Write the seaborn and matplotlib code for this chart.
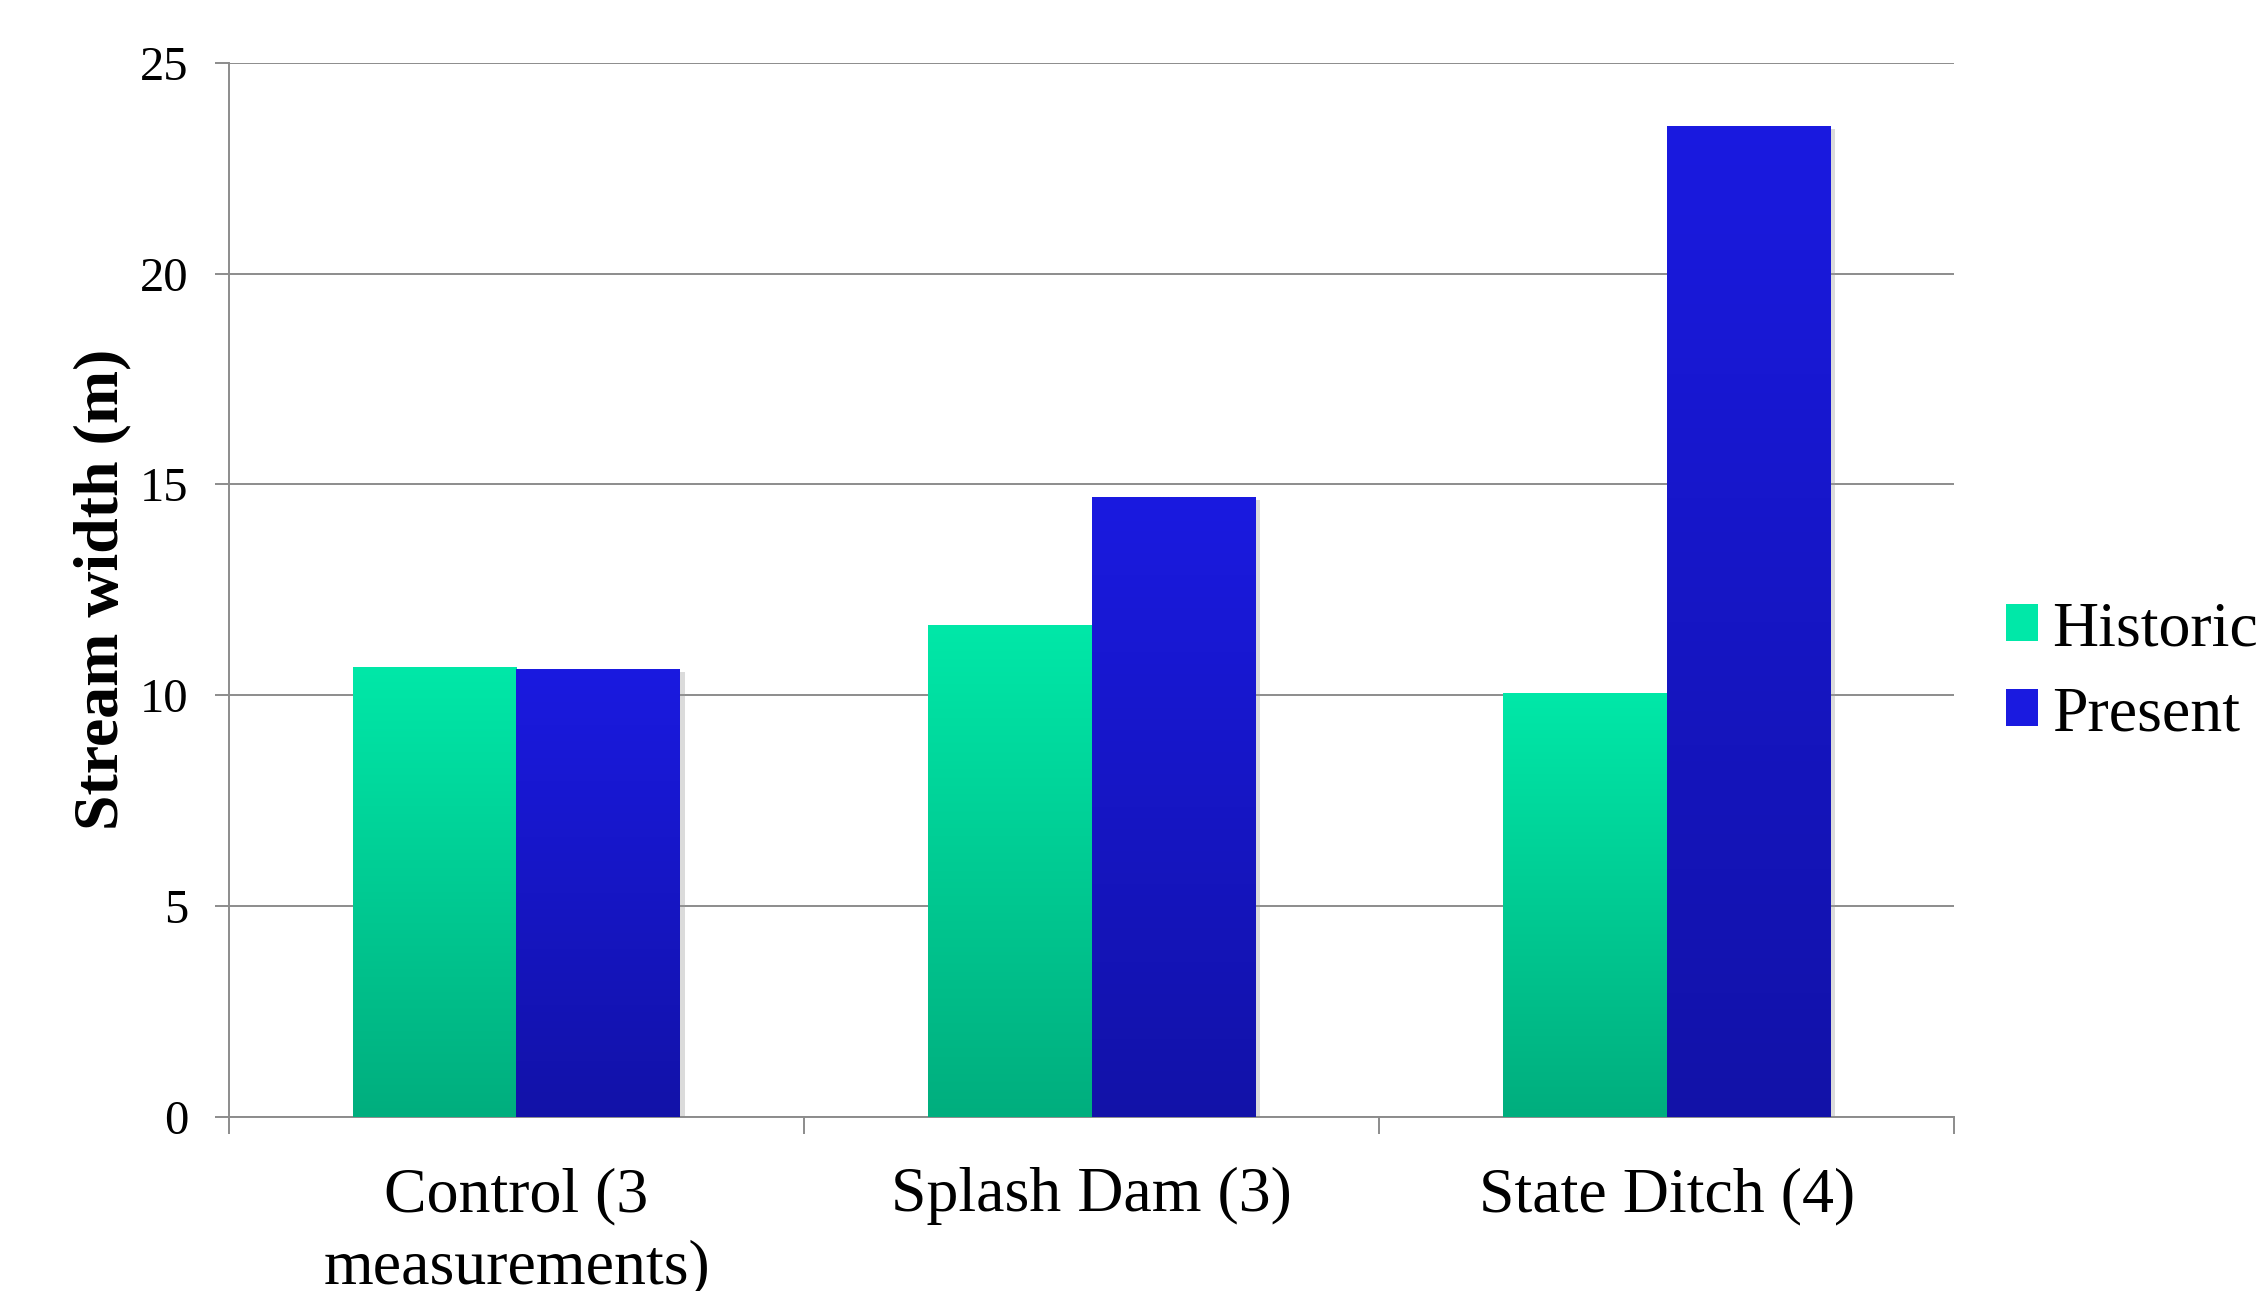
import numpy as np
import pandas as pd
import matplotlib
matplotlib.use('Agg')
import matplotlib.pyplot as plt
import matplotlib.patheffects as pe
from matplotlib.patches import Patch
from matplotlib.colors import LinearSegmentedColormap
import seaborn as sns

# ── data ─────────────────────────────────────────────
sites = ["Control (3\nmeasurements)", "Splash Dam (3)", "State Ditch (4)"]
historic = [10.68, 11.67, 10.05]
present = [10.62, 14.70, 23.50]
series = ["Historic", "Present"]

# colours: top -> bottom of each bar gradient
grad = {
    "Historic": ("#00e8a8", "#00ae7e"),
    "Present": ("#1a1ae0", "#1212a8"),
}

df = pd.DataFrame({
    "site": sites * 2,
    "width": historic + present,
    "series": ["Historic"] * 3 + ["Present"] * 3,
})

sns.set_style("white")
plt.rcParams['font.family'] = ['Liberation Serif', 'DejaVu Serif']
plt.rcParams['text.color'] = 'black'
plt.rcParams['axes.labelcolor'] = 'black'
plt.rcParams['xtick.labelcolor'] = 'black'
plt.rcParams['ytick.labelcolor'] = 'black'

fig = plt.figure(figsize=(22.67, 12.91), dpi=100)
ax = fig.add_axes([0.101, 0.1348, 0.761, 0.8166])

mid = {k: v[0] for k, v in grad.items()}
sns.barplot(data=df, x="site", y="width", hue="series", hue_order=series,
            palette=mid, saturation=1, width=0.57, ax=ax, legend=False)

# replace flat fill by a vertical gradient per bar
ramp = np.linspace(0, 1, 256).reshape(-1, 1)
for bars, name in zip(ax.containers, series):
    cmap = LinearSegmentedColormap.from_list(name, [grad[name][1], grad[name][0]])
    for p in bars:
        x0, y0 = p.get_x(), p.get_y()
        w, h = p.get_width(), p.get_height()
        p.set_facecolor("none")
        p.set_edgecolor("none")
        p.set_path_effects([pe.SimplePatchShadow(offset=(3, -2), shadow_rgbFace="#999999", alpha=0.35)])
        im = ax.imshow(ramp, cmap=cmap, origin="lower", aspect="auto",
                       extent=(x0, x0 + w, y0, y0 + h), zorder=3)
        im.set_clip_path(p)

ax.set_xlim(-0.5, 2.5)
ax.set_ylim(0, 25)
ax.set_yticks([0, 5, 10, 15, 20, 25])
ax.yaxis.grid(True, color="#8c8c8c", linewidth=1.4)
ax.set_axisbelow(True)

for s in ["top", "right"]:
    ax.spines[s].set_visible(False)
for s in ["left", "bottom"]:
    ax.spines[s].set_color("#8c8c8c")
    ax.spines[s].set_linewidth(1.4)

ax.tick_params(axis="y", which="major", length=10, width=1.4, color="#8c8c8c",
               direction="out", pad=19, labelsize=35, left=True)
ax.set_xticks([-0.5, 0.5, 1.5, 2.5], minor=True)
ax.tick_params(axis="x", which="minor", length=12, width=1.4, color="#8c8c8c",
               direction="out", bottom=True)
ax.tick_params(axis="x", which="major", length=0, pad=36, labelsize=46)
for t in ax.get_xticklabels():
    t.set_linespacing(1.32)

ax.set_xlabel("")
ax.set_ylabel("Stream width (m)", fontsize=46, fontweight="bold", labelpad=6)

handles = [Patch(facecolor=grad[n][0], edgecolor="none") for n in series]
fig.legend(handles, series, loc="center left", bbox_to_anchor=(0.885, 0.479),
           frameon=False, fontsize=46, handlelength=0.5, handleheight=0.5,
           handletextpad=0.22, labelspacing=0.42, borderpad=0, borderaxespad=0)

fig.savefig("out.png", dpi=100)
